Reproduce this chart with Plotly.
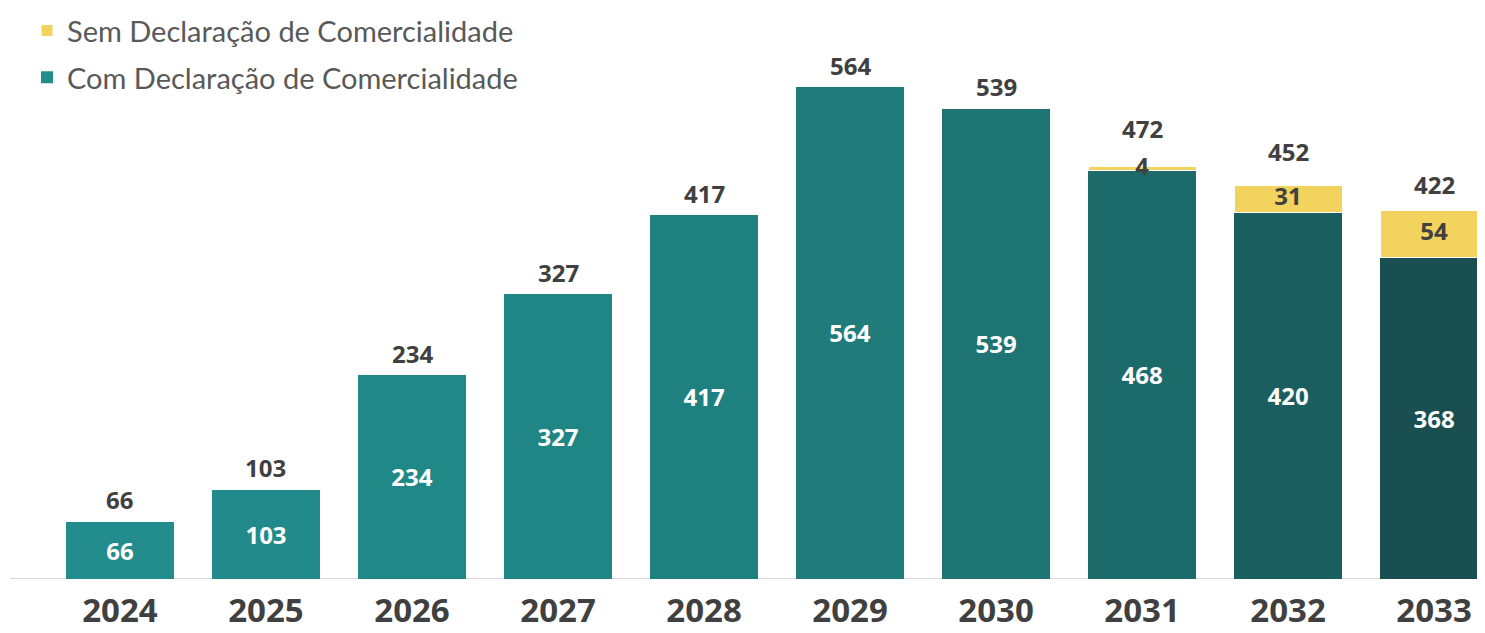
import plotly.graph_objects as go

years = ["2024", "2025", "2026", "2027", "2028", "2029", "2030", "2031", "2032", "2033"]
com_declaracao = [66, 103, 234, 327, 417, 564, 539, 468, 420, 368]
sem_declaracao = [0, 0, 0, 0, 0, 0, 0, 4, 31, 54]
totals = [66, 103, 234, 327, 417, 564, 539, 472, 452, 422]

teal_colors = ["#238c8c", "#228a8a", "#218888", "#208585", "#1f8080", "#207b7b",
               "#1e7373", "#1d6a6b", "#1b5e60", "#1a4f51"]
yellow = "#f2d35e"
label_dark = "#404040"
total_label_shift = [3, 3, 3, 3, 3, 3, 3, 20, 14, 8]  # px above bar top

fig = go.Figure()

fig.add_trace(go.Bar(
    x=years, y=com_declaracao, name="Com Declaração de Comercialidade",
    marker=dict(color=teal_colors, line=dict(width=0)),
    text=[str(v) for v in com_declaracao], textposition="inside",
    insidetextanchor="middle", textangle=0,
    textfont=dict(family="Open Sans", size=24, color="white", weight="bold"),
    width=0.74, legendgroup="com", legendrank=2, hoverinfo="skip",
))

fig.add_trace(go.Bar(
    x=years, y=sem_declaracao, name="Sem Declaração de Comercialidade",
    marker=dict(color=yellow, line=dict(width=1, color="white")),
    width=0.74, legendgroup="sem", legendrank=1, hoverinfo="skip",
))

# labels for the yellow segments
sem_x = [y for y, v in zip(years, sem_declaracao) if v > 0]
sem_y = [c + v / 2 for c, v in zip(com_declaracao, sem_declaracao) if v > 0]
sem_t = [str(v) for v in sem_declaracao if v > 0]
fig.add_trace(go.Scatter(
    x=sem_x, y=sem_y, mode="text", text=sem_t, textposition="middle center",
    textfont=dict(family="Open Sans", size=24, color=label_dark, weight="bold"),
    showlegend=False, hoverinfo="skip", cliponaxis=False,
))

# totals above the bars (x given as category index)
for i, (tot, sh) in enumerate(zip(totals, total_label_shift)):
    fig.add_annotation(
        x=i, y=tot, xref="x", yref="y", text=str(tot), showarrow=False,
        xanchor="center", yanchor="bottom", yshift=sh,
        font=dict(family="Open Sans", size=24, color=label_dark, weight="bold"),
    )

fig.update_layout(
    width=1477, height=625,
    barmode="stack",
    plot_bgcolor="white", paper_bgcolor="white",
    margin=dict(l=0, r=0, t=0, b=54, autoexpand=False),
    showlegend=True,
    legend=dict(
        x=19 / 1477, y=1.005, xanchor="left", yanchor="top",
        font=dict(family="Lato", size=29, color="#595959"),
        traceorder="grouped", tracegroupgap=6,
        itemwidth=30, bgcolor="rgba(0,0,0,0)",
    ),
    xaxis=dict(
        type="category", range=[-0.767, 9.349],
        showgrid=False, zeroline=False, showline=False, ticks="",
        ticklabelstandoff=9,
        tickfont=dict(family="Open Sans", size=33, color=label_dark, weight="bold"),
    ),
    yaxis=dict(
        range=[0, 654], visible=False, showgrid=False, zeroline=False,
    ),
    shapes=[dict(
        type="line", xref="paper", yref="y", x0=2 / 1477, x1=1, y0=0, y1=0,
        line=dict(color="#d9d9d9", width=2), layer="below",
    )],
)

fig.write_html("out.html")
